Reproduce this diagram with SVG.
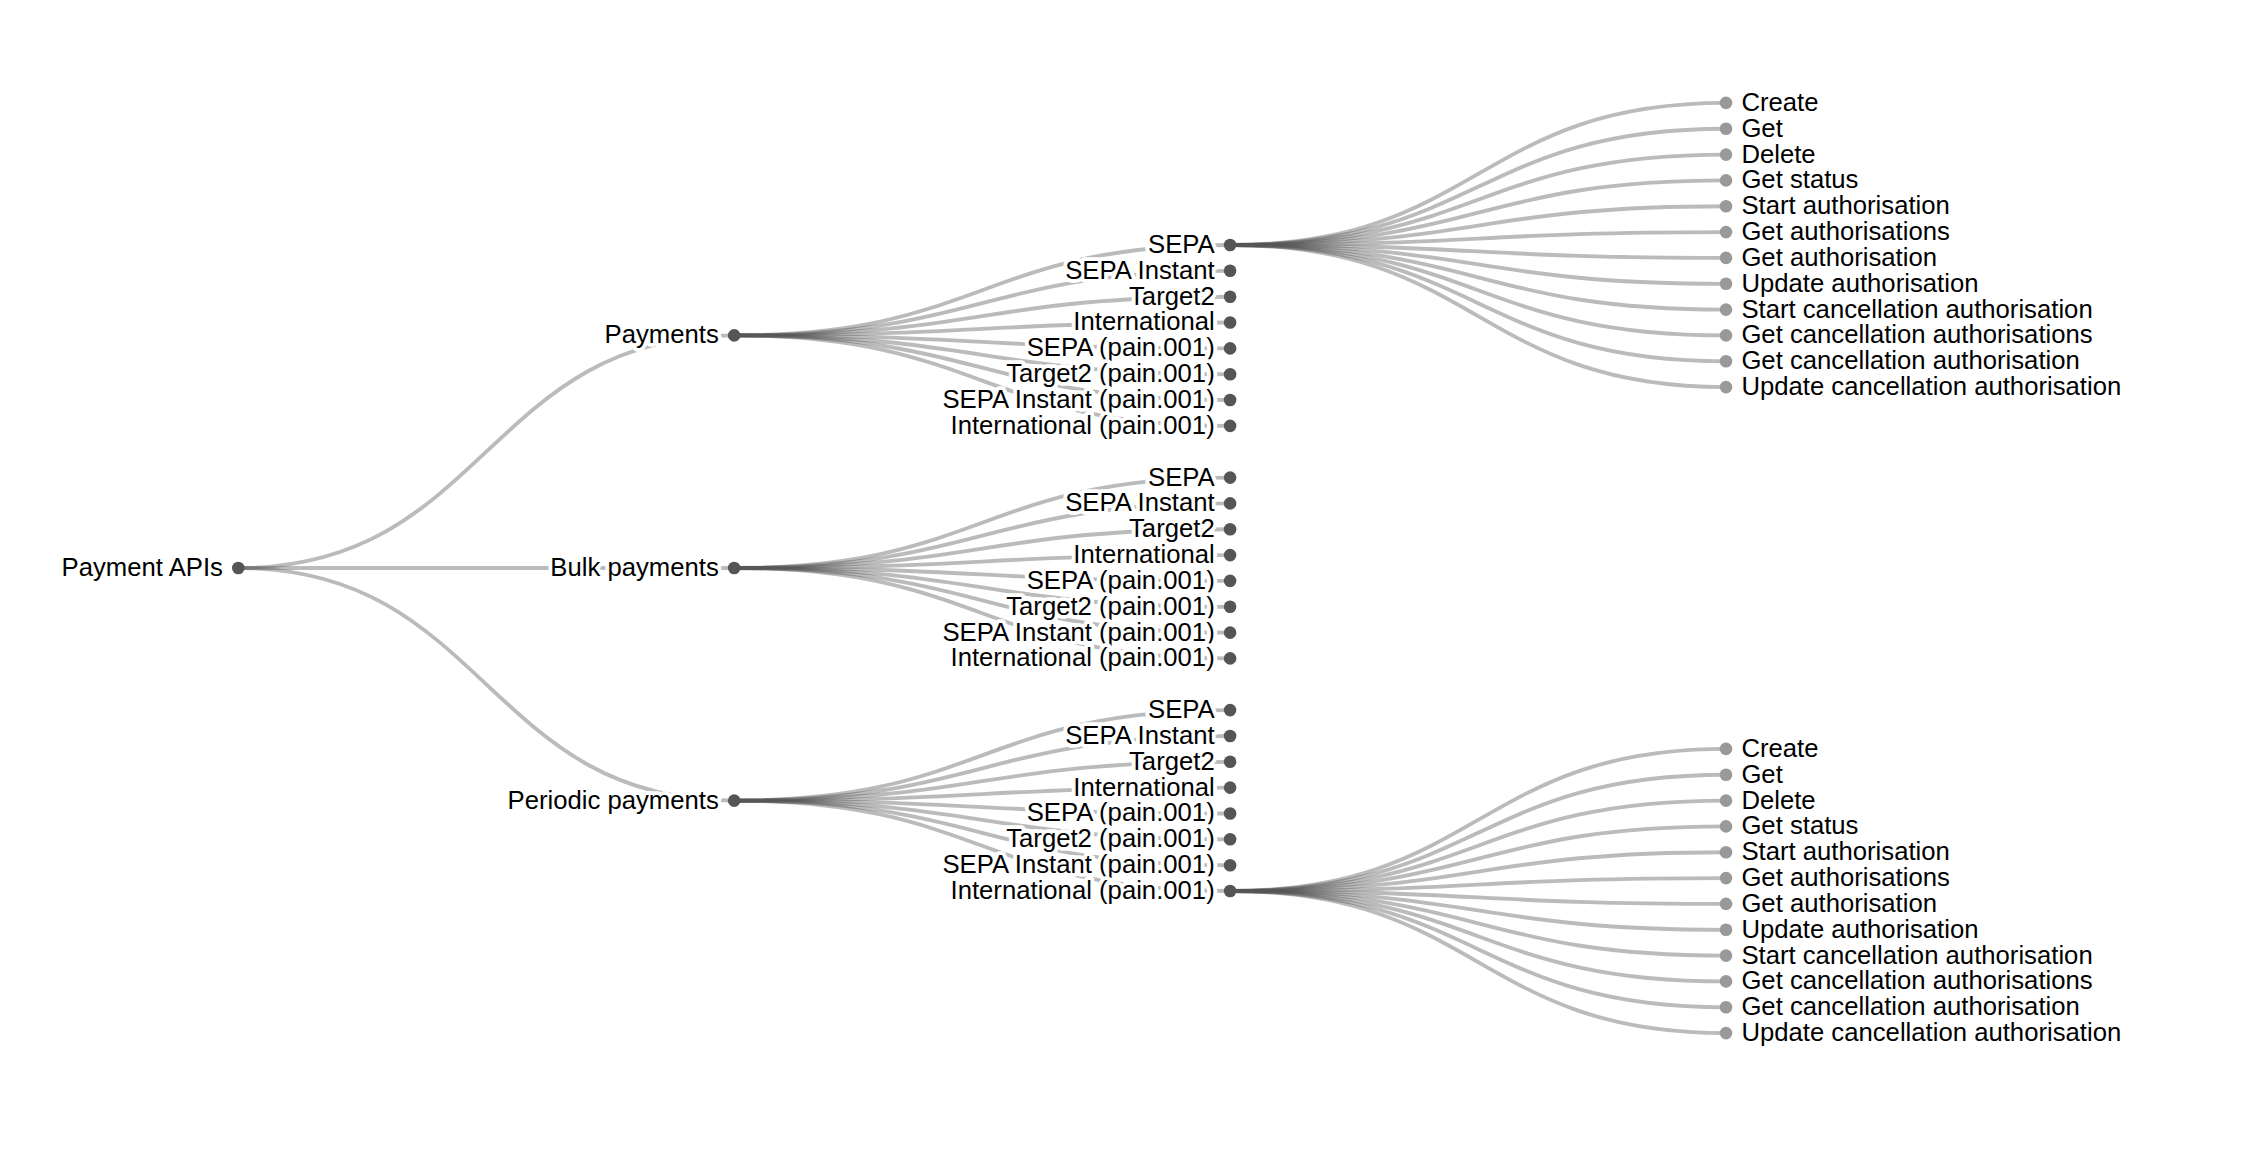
<svg xmlns="http://www.w3.org/2000/svg" width="2248" height="1168" viewBox="0 0 2248 1168">
<style>
.links path{fill:none;stroke:#555;stroke-opacity:0.4;stroke-width:3.85}
circle{r:6.3px}
.in circle{fill:#555}
.lf circle{fill:#999}
text{font-family:"Liberation Sans",Arial,Helvetica,sans-serif;font-size:25.7px;fill:#000;stroke:#fff;stroke-width:7.7;stroke-linejoin:round;paint-order:stroke}
.in text{text-anchor:end}
.lf text{text-anchor:start}
</style>
<rect width="2248" height="1168" fill="#fff"/>
<g id="connectors" class="links">
<path d="M238.3,568C486.3,568 486.3,335.4 734.2,335.4"/>
<path d="M238.3,568C486.3,568 486.3,568 734.2,568"/>
<path d="M238.3,568C486.3,568 486.3,800.6 734.2,800.6"/>
<path d="M734.2,335.4C982.2,335.4 982.2,245 1230.1,245"/>
<path d="M734.2,335.4C982.2,335.4 982.2,270.8 1230.1,270.8"/>
<path d="M734.2,335.4C982.2,335.4 982.2,296.7 1230.1,296.7"/>
<path d="M734.2,335.4C982.2,335.4 982.2,322.5 1230.1,322.5"/>
<path d="M734.2,335.4C982.2,335.4 982.2,348.4 1230.1,348.4"/>
<path d="M734.2,335.4C982.2,335.4 982.2,374.2 1230.1,374.2"/>
<path d="M734.2,335.4C982.2,335.4 982.2,400 1230.1,400"/>
<path d="M734.2,335.4C982.2,335.4 982.2,425.9 1230.1,425.9"/>
<path d="M734.2,568C982.2,568 982.2,477.6 1230.1,477.6"/>
<path d="M734.2,568C982.2,568 982.2,503.4 1230.1,503.4"/>
<path d="M734.2,568C982.2,568 982.2,529.2 1230.1,529.2"/>
<path d="M734.2,568C982.2,568 982.2,555.1 1230.1,555.1"/>
<path d="M734.2,568C982.2,568 982.2,580.9 1230.1,580.9"/>
<path d="M734.2,568C982.2,568 982.2,606.8 1230.1,606.8"/>
<path d="M734.2,568C982.2,568 982.2,632.6 1230.1,632.6"/>
<path d="M734.2,568C982.2,568 982.2,658.4 1230.1,658.4"/>
<path d="M734.2,800.6C982.2,800.6 982.2,710.1 1230.1,710.1"/>
<path d="M734.2,800.6C982.2,800.6 982.2,736 1230.1,736"/>
<path d="M734.2,800.6C982.2,800.6 982.2,761.8 1230.1,761.8"/>
<path d="M734.2,800.6C982.2,800.6 982.2,787.6 1230.1,787.6"/>
<path d="M734.2,800.6C982.2,800.6 982.2,813.5 1230.1,813.5"/>
<path d="M734.2,800.6C982.2,800.6 982.2,839.3 1230.1,839.3"/>
<path d="M734.2,800.6C982.2,800.6 982.2,865.2 1230.1,865.2"/>
<path d="M734.2,800.6C982.2,800.6 982.2,891 1230.1,891"/>
<path d="M1230.1,245C1478.1,245 1478.1,102.9 1726,102.9"/>
<path d="M1230.1,245C1478.1,245 1478.1,128.7 1726,128.7"/>
<path d="M1230.1,245C1478.1,245 1478.1,154.6 1726,154.6"/>
<path d="M1230.1,245C1478.1,245 1478.1,180.4 1726,180.4"/>
<path d="M1230.1,245C1478.1,245 1478.1,206.2 1726,206.2"/>
<path d="M1230.1,245C1478.1,245 1478.1,232.1 1726,232.1"/>
<path d="M1230.1,245C1478.1,245 1478.1,257.9 1726,257.9"/>
<path d="M1230.1,245C1478.1,245 1478.1,283.8 1726,283.8"/>
<path d="M1230.1,245C1478.1,245 1478.1,309.6 1726,309.6"/>
<path d="M1230.1,245C1478.1,245 1478.1,335.4 1726,335.4"/>
<path d="M1230.1,245C1478.1,245 1478.1,361.3 1726,361.3"/>
<path d="M1230.1,245C1478.1,245 1478.1,387.1 1726,387.1"/>
<path d="M1230.1,891C1478.1,891 1478.1,748.9 1726,748.9"/>
<path d="M1230.1,891C1478.1,891 1478.1,774.7 1726,774.7"/>
<path d="M1230.1,891C1478.1,891 1478.1,800.6 1726,800.6"/>
<path d="M1230.1,891C1478.1,891 1478.1,826.4 1726,826.4"/>
<path d="M1230.1,891C1478.1,891 1478.1,852.2 1726,852.2"/>
<path d="M1230.1,891C1478.1,891 1478.1,878.1 1726,878.1"/>
<path d="M1230.1,891C1478.1,891 1478.1,903.9 1726,903.9"/>
<path d="M1230.1,891C1478.1,891 1478.1,929.8 1726,929.8"/>
<path d="M1230.1,891C1478.1,891 1478.1,955.6 1726,955.6"/>
<path d="M1230.1,891C1478.1,891 1478.1,981.4 1726,981.4"/>
<path d="M1230.1,891C1478.1,891 1478.1,1007.3 1726,1007.3"/>
<path d="M1230.1,891C1478.1,891 1478.1,1033.1 1726,1033.1"/>
</g>
<g id="nodes">
<g id="n-root" class="in" transform="translate(238.3,568)"><circle/><text x="-15.4" dy="0.31em">Payment APIs</text></g>
<g id="n-payments" class="in" transform="translate(734.2,335.4)"><circle/><text x="-15.4" dy="0.31em">Payments</text></g>
<g id="n-bulk" class="in" transform="translate(734.2,568)"><circle/><text x="-15.4" dy="0.31em">Bulk payments</text></g>
<g id="n-periodic" class="in" transform="translate(734.2,800.6)"><circle/><text x="-15.4" dy="0.31em">Periodic payments</text></g>

<g id="n-p-sepa" class="in" transform="translate(1230.1,245)"><circle/><text x="-15.4" dy="0.31em">SEPA</text></g>
<g id="n-p-sepa-inst" class="in" transform="translate(1230.1,270.8)"><circle/><text x="-15.4" dy="0.31em">SEPA Instant</text></g>
<g id="n-p-target2" class="in" transform="translate(1230.1,296.7)"><circle/><text x="-15.4" dy="0.31em">Target2</text></g>
<g id="n-p-intl" class="in" transform="translate(1230.1,322.5)"><circle/><text x="-15.4" dy="0.31em">International</text></g>
<g id="n-p-sepa-pain" class="in" transform="translate(1230.1,348.4)"><circle/><text x="-15.4" dy="0.31em">SEPA (pain.001)</text></g>
<g id="n-p-target2-pain" class="in" transform="translate(1230.1,374.2)"><circle/><text x="-15.4" dy="0.31em">Target2 (pain.001)</text></g>
<g id="n-p-sepa-inst-pain" class="in" transform="translate(1230.1,400)"><circle/><text x="-15.4" dy="0.31em">SEPA Instant (pain.001)</text></g>
<g id="n-p-intl-pain" class="in" transform="translate(1230.1,425.9)"><circle/><text x="-15.4" dy="0.31em">International (pain.001)</text></g>

<g id="n-b-sepa" class="in" transform="translate(1230.1,477.6)"><circle/><text x="-15.4" dy="0.31em">SEPA</text></g>
<g id="n-b-sepa-inst" class="in" transform="translate(1230.1,503.4)"><circle/><text x="-15.4" dy="0.31em">SEPA Instant</text></g>
<g id="n-b-target2" class="in" transform="translate(1230.1,529.2)"><circle/><text x="-15.4" dy="0.31em">Target2</text></g>
<g id="n-b-intl" class="in" transform="translate(1230.1,555.1)"><circle/><text x="-15.4" dy="0.31em">International</text></g>
<g id="n-b-sepa-pain" class="in" transform="translate(1230.1,580.9)"><circle/><text x="-15.4" dy="0.31em">SEPA (pain.001)</text></g>
<g id="n-b-target2-pain" class="in" transform="translate(1230.1,606.8)"><circle/><text x="-15.4" dy="0.31em">Target2 (pain.001)</text></g>
<g id="n-b-sepa-inst-pain" class="in" transform="translate(1230.1,632.6)"><circle/><text x="-15.4" dy="0.31em">SEPA Instant (pain.001)</text></g>
<g id="n-b-intl-pain" class="in" transform="translate(1230.1,658.4)"><circle/><text x="-15.4" dy="0.31em">International (pain.001)</text></g>

<g id="n-r-sepa" class="in" transform="translate(1230.1,710.1)"><circle/><text x="-15.4" dy="0.31em">SEPA</text></g>
<g id="n-r-sepa-inst" class="in" transform="translate(1230.1,736)"><circle/><text x="-15.4" dy="0.31em">SEPA Instant</text></g>
<g id="n-r-target2" class="in" transform="translate(1230.1,761.8)"><circle/><text x="-15.4" dy="0.31em">Target2</text></g>
<g id="n-r-intl" class="in" transform="translate(1230.1,787.6)"><circle/><text x="-15.4" dy="0.31em">International</text></g>
<g id="n-r-sepa-pain" class="in" transform="translate(1230.1,813.5)"><circle/><text x="-15.4" dy="0.31em">SEPA (pain.001)</text></g>
<g id="n-r-target2-pain" class="in" transform="translate(1230.1,839.3)"><circle/><text x="-15.4" dy="0.31em">Target2 (pain.001)</text></g>
<g id="n-r-sepa-inst-pain" class="in" transform="translate(1230.1,865.2)"><circle/><text x="-15.4" dy="0.31em">SEPA Instant (pain.001)</text></g>
<g id="n-r-intl-pain" class="in" transform="translate(1230.1,891)"><circle/><text x="-15.4" dy="0.31em">International (pain.001)</text></g>

<g id="n-p-op-create" class="lf" transform="translate(1726,102.9)"><circle/><text x="15.4" dy="0.31em">Create</text></g>
<g id="n-p-op-get" class="lf" transform="translate(1726,128.7)"><circle/><text x="15.4" dy="0.31em">Get</text></g>
<g id="n-p-op-delete" class="lf" transform="translate(1726,154.6)"><circle/><text x="15.4" dy="0.31em">Delete</text></g>
<g id="n-p-op-status" class="lf" transform="translate(1726,180.4)"><circle/><text x="15.4" dy="0.31em">Get status</text></g>
<g id="n-p-op-start-auth" class="lf" transform="translate(1726,206.2)"><circle/><text x="15.4" dy="0.31em">Start authorisation</text></g>
<g id="n-p-op-get-auths" class="lf" transform="translate(1726,232.1)"><circle/><text x="15.4" dy="0.31em">Get authorisations</text></g>
<g id="n-p-op-get-auth" class="lf" transform="translate(1726,257.9)"><circle/><text x="15.4" dy="0.31em">Get authorisation</text></g>
<g id="n-p-op-upd-auth" class="lf" transform="translate(1726,283.8)"><circle/><text x="15.4" dy="0.31em">Update authorisation</text></g>
<g id="n-p-op-start-canc" class="lf" transform="translate(1726,309.6)"><circle/><text x="15.4" dy="0.31em">Start cancellation authorisation</text></g>
<g id="n-p-op-get-cancs" class="lf" transform="translate(1726,335.4)"><circle/><text x="15.4" dy="0.31em">Get cancellation authorisations</text></g>
<g id="n-p-op-get-canc" class="lf" transform="translate(1726,361.3)"><circle/><text x="15.4" dy="0.31em">Get cancellation authorisation</text></g>
<g id="n-p-op-upd-canc" class="lf" transform="translate(1726,387.1)"><circle/><text x="15.4" dy="0.31em">Update cancellation authorisation</text></g>

<g id="n-r-op-create" class="lf" transform="translate(1726,748.9)"><circle/><text x="15.4" dy="0.31em">Create</text></g>
<g id="n-r-op-get" class="lf" transform="translate(1726,774.7)"><circle/><text x="15.4" dy="0.31em">Get</text></g>
<g id="n-r-op-delete" class="lf" transform="translate(1726,800.6)"><circle/><text x="15.4" dy="0.31em">Delete</text></g>
<g id="n-r-op-status" class="lf" transform="translate(1726,826.4)"><circle/><text x="15.4" dy="0.31em">Get status</text></g>
<g id="n-r-op-start-auth" class="lf" transform="translate(1726,852.2)"><circle/><text x="15.4" dy="0.31em">Start authorisation</text></g>
<g id="n-r-op-get-auths" class="lf" transform="translate(1726,878.1)"><circle/><text x="15.4" dy="0.31em">Get authorisations</text></g>
<g id="n-r-op-get-auth" class="lf" transform="translate(1726,903.9)"><circle/><text x="15.4" dy="0.31em">Get authorisation</text></g>
<g id="n-r-op-upd-auth" class="lf" transform="translate(1726,929.8)"><circle/><text x="15.4" dy="0.31em">Update authorisation</text></g>
<g id="n-r-op-start-canc" class="lf" transform="translate(1726,955.6)"><circle/><text x="15.4" dy="0.31em">Start cancellation authorisation</text></g>
<g id="n-r-op-get-cancs" class="lf" transform="translate(1726,981.4)"><circle/><text x="15.4" dy="0.31em">Get cancellation authorisations</text></g>
<g id="n-r-op-get-canc" class="lf" transform="translate(1726,1007.3)"><circle/><text x="15.4" dy="0.31em">Get cancellation authorisation</text></g>
<g id="n-r-op-upd-canc" class="lf" transform="translate(1726,1033.1)"><circle/><text x="15.4" dy="0.31em">Update cancellation authorisation</text></g>
</g>
</svg>
